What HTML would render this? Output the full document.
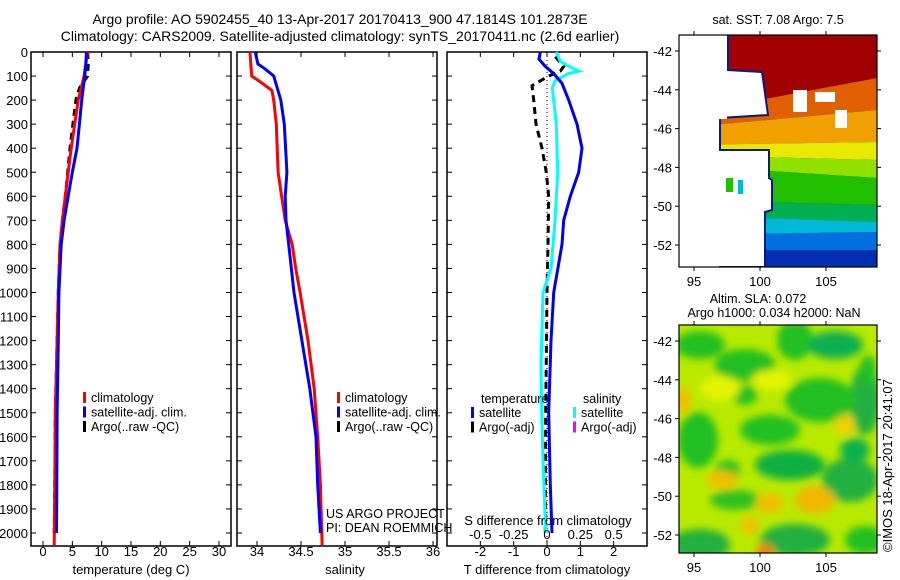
<!DOCTYPE html>
<html><head><meta charset="utf-8">
<style>
html,body{margin:0;padding:0;background:#fff;}
svg{display:block;font-family:"Liberation Sans",sans-serif;}
text{fill:#000;}
</style></head>
<body>
<svg id="chart" width="900" height="580" viewBox="0 0 900 580" xmlns="http://www.w3.org/2000/svg">
<defs><filter id="blur" x="-10%" y="-10%" width="120%" height="120%"><feGaussianBlur stdDeviation="4"/></filter></defs>
<rect width="900" height="580" fill="#fff"/>
<text x="340" y="24" font-size="14" text-anchor="middle">Argo profile: AO 5902455_40 13-Apr-2017 20170413_900 47.1814S 101.2873E</text>
<text x="340" y="41" font-size="14" text-anchor="middle">Climatology: CARS2009. Satellite-adjusted climatology: synTS_20170411.nc (2.6d earlier)</text>
<g id="p1"></g>
<g id="p2"></g>
<g id="p3"></g>
<g id="m1"></g>
<g id="m2"></g>
<text transform="translate(892,552) rotate(-90)" font-size="13">©IMOS 18-Apr-2017 20:41:07</text>
</svg>
<script>
// ---- data ----
const depthTicks = [0,100,200,300,400,500,600,700,800,900,1000,1100,1200,1300,1400,1500,1600,1700,1800,1900,2000];
const tempTicks = [0,5,10,15,20,25,30];
const salTicks = [34,34.5,35,35.5,36];
const dTTicks = [-2,-1,0,1,2];
const dSTicks = [-0.5,-0.25,0,0.25,0.5];

const climTDepth = [0,50,100,200,300,400,500,600,700,800,1000,1200,1500,1800,2050];
const climTemp   = [7.6,7.3,7.0,6.0,5.4,4.8,4.3,3.8,3.3,2.9,2.6,2.4,2.1,2.0,1.9];
const satTDepth  = [0,50,100,200,300,400,500,600,700,800,1000,1200,1500,1800,2000];
const satTemp    = [7.4,7.3,7.1,6.6,6.2,5.8,5.0,4.3,3.6,3.1,2.7,2.6,2.4,2.35,2.3];
const argoTDepth = [0,50,100,150,200,300,400,500,600,700,800,1000,1200,1500,1800,2000];
const argoTemp   = [7.6,7.7,7.6,6.2,5.6,5.1,4.6,4.2,3.8,3.3,2.9,2.6,2.4,2.1,2.0,1.9];

const climSDepth = [0,100,130,160,200,300,500,600,700,800,900,1000,1200,1400,1600,1800,2050];
const climSal    = [33.92,33.94,34.06,34.17,34.19,34.22,34.24,34.28,34.32,34.40,34.44,34.49,34.58,34.65,34.69,34.72,34.74];
const satSDepth  = [0,50,70,100,200,300,500,600,700,800,1000,1200,1400,1600,1800,2000];
const satSal     = [33.98,34.01,34.09,34.19,34.27,34.31,34.34,34.32,34.33,34.36,34.42,34.51,34.60,34.67,34.69,34.72];

const dDepth   = [0,30,60,90,130,200,300,400,500,600,700,800,1000,1200,1500,1800,2000];
const satDT    = [-0.2,-0.24,-0.05,0.2,0.45,0.65,0.9,1.05,0.95,0.7,0.5,0.45,0.2,0.12,0.05,0.1,0.15];
const sDepth   = [0,40,70,80,90,120,150,300,500,700,900,1000,1300,1500,1700,2000];
const satDS    = [0.07,0.1,0.2,0.24,0.16,0.06,0.04,0.07,0.08,0.06,0.03,-0.03,-0.045,-0.04,-0.03,-0.01];
const aDepth   = [20,60,80,100,140,200,300,400,500,600,800,1000,1500,2000];
const argoDT   = [0.25,0.5,0.4,0.05,-0.45,-0.4,-0.33,-0.15,-0.02,0.05,0.03,0,-0.04,-0.05];

const NS="http://www.w3.org/2000/svg";
function el(parent,tag,attrs){const e=document.createElementNS(NS,tag);for(const k in attrs)e.setAttribute(k,attrs[k]);parent.appendChild(e);return e;}
const plotTop=52,plotBot=546;
const yD = d => plotTop + d*0.2405;

function panel(g,x0,x1,xmin,xmax){
  const sx=v=>x0+(v-xmin)/(xmax-xmin)*(x1-x0);
  const r=el(g,'rect',{x:x0,y:plotTop,width:x1-x0,height:plotBot-plotTop,fill:'none',stroke:'#000','stroke-width':1.5});
  
  
  depthTicks.forEach(d=>{
    el(g,'line',{x1:x0,x2:x0+5,y1:yD(d),y2:yD(d),stroke:'#000'});
    el(g,'line',{x1:x1,x2:x1-5,y1:yD(d),y2:yD(d),stroke:'#000'});
  });
  return sx;
}
function line(g,xs,ds,sx,color,w,dash,name){
  const pts=xs.map((v,i)=>sx(v).toFixed(1)+','+yD(ds[i]).toFixed(1)).join(' ');
  const p=el(g,'polyline',{points:pts,fill:'none',stroke:color,'stroke-width':w});
  if(dash)p.setAttribute('stroke-dasharray',dash);
  
  
}
function xtick(g,sx,ticks,fmt,yl,label,ly){
  ticks.forEach(t=>{
    el(g,'line',{x1:sx(t),x2:sx(t),y1:plotBot,y2:plotBot-5,stroke:'#000'});
    el(g,'line',{x1:sx(t),x2:sx(t),y1:plotTop,y2:plotTop+5,stroke:'#000'});
    const tx=el(g,'text',{x:sx(t),y:yl,'font-size':13,'text-anchor':'middle'});tx.textContent=fmt(t);
    
    
  });
  const lt=el(g,'text',{x:(sx(ticks[0])+sx(ticks[ticks.length-1]))/2,y:ly,'font-size':13,'text-anchor':'middle'});lt.textContent=label;
  
  
}
function legend(g,x,y,items){
  items.forEach((it,i)=>{
    el(g,'rect',{x:x,y:y+i*14.5-6,width:3,height:11,fill:it[0]});
    const t=el(g,'text',{x:x+8,y:y+i*14.5+4,'font-size':12.5});t.textContent=it[1];
    
    
  });
}
// Panel 1
const g1=document.getElementById('p1');
const sx1=panel(g1,31,231,-2.05,32.05);
depthTicks.forEach(d=>{const t=el(g1,'text',{x:28,y:yD(d)+5,'font-size':13,'text-anchor':'end'});t.textContent=d;
  
  });
line(g1,argoTemp,argoTDepth,sx1,'#000',3,'7,5','argo-temperature-line');
line(g1,climTemp,climTDepth,sx1,'#f00',3,null,'climatology-temperature-line');
line(g1,satTemp,satTDepth,sx1,'#00f',3,null,'satellite-temperature-line');
xtick(g1,sx1,tempTicks,v=>v,556,'temperature (deg C)',574);
legend(g1,83,398,[['#f00','climatology'],['#00f','satellite-adj. clim.'],['#000','Argo(..raw -QC)']]);
// Panel 2
const g2=document.getElementById('p2');
const sx2=panel(g2,237,437,33.773,36.045);
line(g2,climSal,climSDepth,sx2,'#f00',3,null,'climatology-salinity-line');
line(g2,satSal,satSDepth,sx2,'#00f',3,null,'satellite-salinity-line');
xtick(g2,sx2,salTicks,v=>v,556,'salinity',574);
legend(g2,337,398,[['#f00','climatology'],['#00f','satellite-adj. clim.'],['#000','Argo(..raw -QC)']]);
let t1=el(g2,'text',{x:326,y:518,'font-size':12.5});t1.textContent='US ARGO PROJECT';


let t2=el(g2,'text',{x:326,y:532,'font-size':12.5});t2.textContent='PI: DEAN ROEMMICH';


// Panel 3
const g3=document.getElementById('p3');
const sx3=panel(g3,447,647,-3,3);
el(g3,'line',{x1:sx3(0),x2:sx3(0),y1:plotTop,y2:plotBot,stroke:'#000','stroke-dasharray':'1,3'});
line(g3,argoDT,aDepth,sx3,'#000',3,'7,5','argo-t-difference-line');
line(g3,satDS.map(v=>v*4),sDepth,sx3,'#0ff',3,null,'satellite-s-difference-line');
line(g3,satDT,dDepth,sx3,'#00e',3,null,'satellite-t-difference-line');
xtick(g3,sx3,dTTicks,v=>v,556,'T difference from climatology',574);
dSTicks.forEach(s=>{const t=el(g3,'text',{x:sx3(s*4),y:539,'font-size':13,'text-anchor':'middle'});t.textContent=s;
  
  });
let st=el(g3,'text',{x:548,y:525,'font-size':13,'text-anchor':'middle'});st.textContent='S difference from climatology';


let lh1=el(g3,'text',{x:481,y:403,'font-size':12.5});lh1.textContent='temperature';


let lh2=el(g3,'text',{x:583,y:403,'font-size':12.5});lh2.textContent='salinity';


legend(g3,471,413,[['#00f','satellite'],['#000','Argo(-adj)']]);
legend(g3,573,413,[['#0ff','satellite'],['#f0f','Argo(-adj)']]);

// Maps
function mapAxes(g,y0,y1,lat0){
  const x0=679,x1=877;
  const lon=v=>694+(v-95)*13.2;
  const lat=v=>lat0+(-42-v)*19.4;
  [-42,-44,-46,-48,-50,-52].forEach(v=>{
    el(g,'line',{x1:x0,x2:x0-4,y1:lat(v),y2:lat(v),stroke:'#000'});
    el(g,'line',{x1:x1,x2:x1+4,y1:lat(v),y2:lat(v),stroke:'#000'});
    const t=el(g,'text',{x:672,y:lat(v)+5,'font-size':13,'text-anchor':'end'});t.textContent=v;
    
    
  });
  [95,100,105].forEach(v=>{
    el(g,'line',{x1:lon(v),x2:lon(v),y1:y1,y2:y1+4,stroke:'#000'});
    el(g,'line',{x1:lon(v),x2:lon(v),y1:y0,y2:y0-4,stroke:'#000'});
    const t=el(g,'text',{x:lon(v),y:y1+19,'font-size':13,'text-anchor':'middle'});t.textContent=v;
    
    
  });
  el(g,'rect',{x:x0,y:y0,width:x1-x0,height:y1-y0,fill:'none',stroke:'#000','stroke-width':1.2});
}
// SST map
const m1=document.getElementById('m1');
const cp=el(m1,'clipPath',{id:'c1'});el(cp,'rect',{x:679,y:35,width:198,height:232});
const mg=el(m1,'g',{'clip-path':'url(#c1)'});
el(mg,'rect',{x:679,y:35,width:198,height:232,fill:'#0020a0'});
// [color, left-top, right-top] band boundaries
const bands=[['#a00000',0,0],['#e06000',115,78],['#f0a000',128,110],['#e8e800',145,142],['#90e000',155,160],['#20c000',165,178],['#00b050',200,205],['#00b8d8',215,222],['#0070e0',235,232],['#0030b0',250,250]];
bands.forEach((b,i)=>{const n=bands[i+1]||[0,300,300];
  el(mg,'polygon',{points:`679,${b[1]} 877,${b[2]} 877,${n[2]} 679,${n[1]}`,fill:b[0]});});
el(mg,'polygon',{points:'679,35 728,35 728,70 762,72 768,115 720,118 720,150 769,150 769,178 772,180 772,210 765,212 765,267 679,267',fill:'#fff',stroke:'#0a1a80','stroke-width':2});
el(mg,'rect',{x:679,y:118,width:40,height:149,fill:'#fff'});
el(mg,'rect',{x:679,y:35,width:48,height:84,fill:'#fff'});
el(mg,'rect',{x:793,y:90,width:14,height:22,fill:'#fff'});
el(mg,'rect',{x:815,y:92,width:20,height:10,fill:'#fff'});
el(mg,'rect',{x:835,y:110,width:12,height:18,fill:'#fff'});
el(mg,'rect',{x:726,y:178,width:7,height:14,fill:'#20c000'});
el(mg,'rect',{x:738,y:180,width:5,height:14,fill:'#00b8d8'});
mapAxes(m1,35,267,51);
let ms=el(m1,'text',{x:778,y:24,'font-size':12.5,'text-anchor':'middle'});ms.textContent='sat. SST: 7.08 Argo: 7.5';


// SLA map
const m2=document.getElementById('m2');
const cp2=el(m2,'clipPath',{id:'c2'});el(cp2,'rect',{x:679,y:325,width:198,height:228});
const mg2=el(m2,'g',{'clip-path':'url(#c2)'});
el(mg2,'rect',{x:679,y:325,width:198,height:230,fill:'#b8ea00'});
const bg2=el(mg2,'g',{filter:'url(#blur)'});
const blobs=[[700,345,25,14,'#20c020'],[745,365,30,16,'#20c020'],[795,340,18,20,'#20c020'],[835,345,28,14,'#10b050'],[865,400,15,35,'#20b040'],[820,400,35,22,'#20c020'],[770,430,30,15,'#20c020'],[698,440,20,28,'#20c020'],[790,465,35,15,'#10b040'],[850,480,28,22,'#20b040'],[735,500,25,10,'#30c020'],[700,545,30,16,'#20b040'],[795,540,35,16,'#20b040'],[865,540,20,14,'#20c020'],[728,470,12,10,'#20c020'],[745,395,12,10,'#20c020'],[855,450,15,12,'#10b050'],[772,380,20,10,'#e4f400'],[720,388,20,12,'#e4f400'],[683,400,8,14,'#f0c000'],[722,480,16,9,'#f0c000'],[770,503,14,10,'#f0c000'],[815,500,20,14,'#f0b800'],[750,525,9,9,'#f0c000'],[765,552,9,8,'#f08000'],[845,425,10,10,'#f0d000'],[868,370,8,15,'#20c020']];
blobs.forEach(b=>el(bg2,'ellipse',{cx:b[0],cy:b[1],rx:b[2],ry:b[3],fill:b[4]}));
mapAxes(m2,325,553,341);
let a1=el(m2,'text',{x:758,y:303,'font-size':12.5,'text-anchor':'middle'});a1.textContent='Altim. SLA: 0.072';


let a2=el(m2,'text',{x:774,y:317,'font-size':12.5,'text-anchor':'middle'});a2.textContent='Argo h1000: 0.034 h2000: NaN';


</script>
</body></html>
